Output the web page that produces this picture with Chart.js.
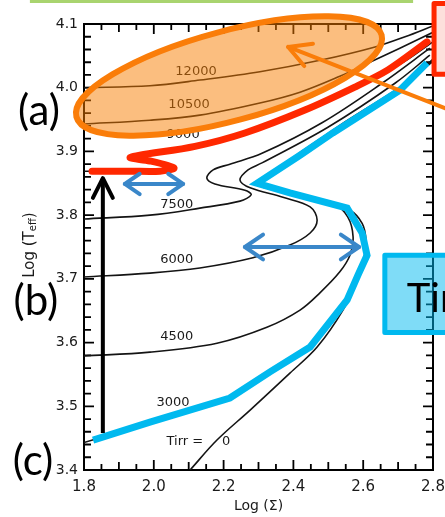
<!DOCTYPE html>
<html>
<head>
<meta charset="utf-8">
<script src="https://cdn.jsdelivr.net/npm/chart.js@4.4.1/dist/chart.umd.min.js"></script>
<style>
  html, body { margin: 0; padding: 0; background: #fff; }
  canvas { display: block; }
</style>
</head>
<body>
<canvas id="chart" width="445" height="517"></canvas>
<script>
// S-curves, Log(Sigma) vs Log(Teff), one pair of arrays per irradiation temperature
const sig12000 = [1.800, 1.989, 2.132, 2.304, 2.476, 2.634, 2.720, 2.800];
const teff12000 = [4.000, 4.003, 4.012, 4.025, 4.043, 4.064, 4.080, 4.097];

const sig10500 = [1.800, 1.989, 2.132, 2.304, 2.419, 2.533, 2.619, 2.705, 2.800];
const teff10500 = [3.943, 3.949, 3.957, 3.976, 3.993, 4.018, 4.040, 4.062, 4.087];

const sig9000 = [1.800, 1.950, 2.040, 2.060, 2.000, 1.950, 1.970, 2.118, 2.261, 2.433, 2.576, 2.700, 2.800];
const teff9000 = [3.869, 3.869, 3.871, 3.876, 3.884, 3.890, 3.895, 3.909, 3.930, 3.966, 4.003, 4.035, 4.072];

const sig7500 = [1.800, 1.989, 2.132, 2.247, 2.279, 2.261, 2.175, 2.152, 2.170, 2.218, 2.310, 2.482, 2.654, 2.791];
const teff7500 = [3.794, 3.800, 3.811, 3.822, 3.832, 3.839, 3.849, 3.858, 3.871, 3.880, 3.897, 3.945, 4.007, 4.062];

const sig6000 = [1.800, 1.989, 2.132, 2.284, 2.390, 2.448, 2.468, 2.448, 2.370, 2.276, 2.247, 2.270, 2.310, 2.499, 2.691, 2.791];
const teff6000 = [3.703, 3.709, 3.717, 3.733, 3.753, 3.772, 3.792, 3.813, 3.828, 3.843, 3.855, 3.871, 3.882, 3.938, 4.007, 4.051];

const sig4500 = [1.800, 1.989, 2.181, 2.324, 2.419, 2.476, 2.533, 2.562, 2.571, 2.556, 2.513, 2.390, 2.296, 2.310, 2.419, 2.533, 2.705, 2.797];
const teff4500 = [3.579, 3.585, 3.599, 3.624, 3.651, 3.678, 3.711, 3.737, 3.766, 3.797, 3.819, 3.836, 3.849, 3.858, 3.897, 3.941, 4.001, 4.040];

const sig3000 = [1.800, 1.989, 2.218, 2.333, 2.448, 2.554, 2.585, 2.608, 2.597, 2.554, 2.390, 2.300, 2.419, 2.513, 2.705, 2.800];
const teff3000 = [3.443, 3.474, 3.512, 3.553, 3.592, 3.666, 3.705, 3.737, 3.772, 3.811, 3.835, 3.850, 3.894, 3.929, 3.996, 4.043];

const sig0 = [2.104, 2.181, 2.276, 2.390, 2.468, 2.542, 2.582, 2.602, 2.608, 2.597, 2.560, 2.450, 2.330, 2.310, 2.360, 2.450, 2.550, 2.700, 2.800];
const teff0 = [3.400, 3.447, 3.494, 3.552, 3.593, 3.651, 3.698, 3.733, 3.760, 3.787, 3.808, 3.826, 3.843, 3.852, 3.875, 3.910, 3.945, 3.995, 4.045];

// hand drawn highlights
const redSig = [1.823, 1.932, 2.018, 2.058, 1.989, 1.932, 1.960, 2.118, 2.261, 2.433, 2.576, 2.671, 2.783];
const redTeff = [3.869, 3.869, 3.869, 3.874, 3.885, 3.890, 3.894, 3.908, 3.929, 3.965, 4.001, 4.028, 4.072];

const cyanSig = [1.826, 1.989, 2.218, 2.333, 2.448, 2.554, 2.585, 2.611, 2.597, 2.554, 2.390, 2.296, 2.419, 2.513, 2.705, 2.783];
const cyanTeff = [3.447, 3.475, 3.513, 3.554, 3.593, 3.667, 3.706, 3.737, 3.772, 3.811, 3.835, 3.850, 3.894, 3.929, 3.996, 4.039];

// curve labels
const curveLabels = ['12000', '10500', '9000', '7500', '6000', '4500', '3000', 'Tirr =', '0'];
const labelSig = [2.121, 2.101, 2.084, 2.066, 2.066, 2.066, 2.055, 2.089, 2.207];
const labelTeff = [4.025, 3.973, 3.926, 3.817, 3.730, 3.609, 3.505, 3.444, 3.444];

function pts(xs, ys) {
  return xs.map((v, i) => ({ x: v, y: ys[i] }));
}

function curve(xs, ys) {
  return {
    data: pts(xs, ys),
    showLine: true,
    borderColor: '#141414',
    borderWidth: 1.6,
    pointRadius: 0,
    tension: 0.35
  };
}

function head(ctx, tx, ty, fx, fy, len, ang) {
  const a = Math.atan2(fy - ty, fx - tx);
  ctx.beginPath();
  ctx.moveTo(tx + len * Math.cos(a + ang), ty + len * Math.sin(a + ang));
  ctx.lineTo(tx, ty);
  ctx.lineTo(tx + len * Math.cos(a - ang), ty + len * Math.sin(a - ang));
  ctx.stroke();
}

const frame = {
  id: 'frame',
  beforeDatasetsDraw(chart) {
    const ctx = chart.ctx;
    const a = chart.chartArea;
    const x = chart.scales.x, y = chart.scales.y;
    ctx.save();
    ctx.strokeStyle = '#000';
    ctx.lineWidth = 1.8;
    ctx.beginPath();
    for (let i = 0; i <= 20; i++) {
      const px = x.getPixelForValue(1.8 + i * 0.05);
      const len = i % 4 === 0 ? 10 : (i % 2 === 0 ? 8 : 6);
      ctx.moveTo(px, a.bottom); ctx.lineTo(px, a.bottom - len);
      ctx.moveTo(px, a.top); ctx.lineTo(px, a.top + len);
    }
    for (let i = 0; i <= 35; i++) {
      const py = y.getPixelForValue(3.4 + i * 0.02);
      const len = i % 5 === 0 ? 10 : 7;
      ctx.moveTo(a.left, py); ctx.lineTo(a.left + len, py);
      ctx.moveTo(a.right, py); ctx.lineTo(a.right - len, py);
    }
    ctx.stroke();
    ctx.lineWidth = 2;
    ctx.strokeRect(a.left, a.top, a.right - a.left, a.bottom - a.top);

    ctx.fillStyle = '#1a1a1a';
    ctx.font = '13px "DejaVu Sans"';
    ctx.textAlign = 'center';
    ctx.textBaseline = 'middle';
    curveLabels.forEach((t, i) => {
      ctx.fillText(t, x.getPixelForValue(labelSig[i]), y.getPixelForValue(labelTeff[i]));
    });
    ctx.restore();
  },
  afterDatasetsDraw(chart) {
    const ctx = chart.ctx;
    const x = chart.scales.x, y = chart.scales.y;
    const X = v => x.getPixelForValue(v);
    const Y = v => y.getPixelForValue(v);
    ctx.save();

    // orange ellipse around the hot branch
    ctx.beginPath();
    ctx.ellipse(X(2.2155), Y(4.0184), 158, 45, -15 * Math.PI / 180, 0, Math.PI * 2);
    ctx.fillStyle = 'rgba(248, 125, 0, 0.5)';
    ctx.fill();
    ctx.lineWidth = 6;
    ctx.strokeStyle = '#fa7d09';
    ctx.stroke();

    ctx.lineCap = 'round';
    ctx.lineJoin = 'round';

    // orange arrow
    ctx.lineWidth = 4;
    ctx.beginPath();
    ctx.moveTo(X(2.834), Y(3.968));
    ctx.lineTo(X(2.385), Y(4.064));
    ctx.stroke();
    head(ctx, X(2.385), Y(4.064), X(2.834), Y(3.968), 25, 0.5);

    // blue double arrows
    ctx.strokeStyle = '#3a87c9';
    ctx.lineWidth = 4;
    [[1.917, 2.084, 3.849, 18], [2.261, 2.588, 3.750, 22]].forEach(([s0, s1, t, l]) => {
      ctx.beginPath();
      ctx.moveTo(X(s0), Y(t));
      ctx.lineTo(X(s1), Y(t));
      ctx.stroke();
      head(ctx, X(s0), Y(t), X(s1), Y(t), l, 0.6);
      head(ctx, X(s1), Y(t), X(s0), Y(t), l, 0.6);
    });

    // black arrow
    ctx.strokeStyle = '#000';
    ctx.lineWidth = 4;
    ctx.lineCap = 'butt';
    ctx.beginPath();
    ctx.moveTo(X(1.854), Y(3.458));
    ctx.lineTo(X(1.854), Y(3.858));
    ctx.stroke();
    ctx.lineCap = 'round';
    head(ctx, X(1.854), Y(3.858), X(1.854), Y(3.458), 22, 0.47);

    // cyan box
    ctx.lineJoin = 'round';
    const bx0 = X(2.662), by0 = Y(3.737), bx1 = X(2.85), by1 = Y(3.616);
    ctx.fillStyle = 'rgba(0, 185, 240, 0.5)';
    ctx.fillRect(bx0, by0, bx1 - bx0, by1 - by0);
    ctx.lineWidth = 5;
    ctx.strokeStyle = '#00b9ef';
    ctx.strokeRect(bx0, by0, bx1 - bx0, by1 - by0);
    ctx.fillStyle = '#000';
    ctx.font = '40px Lato';
    ctx.textAlign = 'left';
    ctx.textBaseline = 'alphabetic';
    ctx.fillText('Tirr', X(2.725), Y(3.648));

    // red box
    const rx0 = X(2.803), ry0 = Y(4.132), rx1 = X(2.87), ry1 = Y(4.021);
    ctx.fillStyle = '#fde0dc';
    ctx.fillRect(rx0, ry0, rx1 - rx0, ry1 - ry0);
    ctx.lineWidth = 5;
    ctx.strokeStyle = '#ff2800';
    ctx.strokeRect(rx0, ry0, rx1 - rx0, ry1 - ry0);

    // green rule at top
    ctx.strokeStyle = '#a9d46f';
    ctx.lineWidth = 3;
    ctx.lineCap = 'butt';
    ctx.beginPath();
    ctx.moveTo(X(1.645), Y(4.1353));
    ctx.lineTo(X(2.743), Y(4.1353));
    ctx.stroke();

    // (a) (b) (c)
    ctx.fillStyle = '#000';
    ctx.font = '42px Lato';
    ctx.textAlign = 'center';
    ctx.textBaseline = 'middle';
    ctx.fillText('(a)', X(1.671), Y(3.962));
    ctx.fillText('(b)', X(1.662), Y(3.665));
    ctx.fillText('(c)', X(1.654), Y(3.414));

    // y axis title with subscript
    ctx.translate(X(1.645), Y(3.753));
    ctx.rotate(-Math.PI / 2);
    ctx.fillStyle = '#1a1a1a';
    ctx.textAlign = 'left';
    ctx.textBaseline = 'middle';
    const big = '15px "DejaVu Sans"', small = '10px "DejaVu Sans"';
    ctx.font = big;
    const w1 = ctx.measureText('Log (T').width;
    const w3 = ctx.measureText(')').width;
    ctx.font = small;
    const w2 = ctx.measureText('eff').width;
    let cx = -(w1 + w2 + w3) / 2;
    ctx.font = big;
    ctx.fillText('Log (T', cx, 0);
    cx += w1;
    ctx.font = small;
    ctx.fillText('eff', cx, 4);
    cx += w2;
    ctx.font = big;
    ctx.fillText(')', cx, 0);
    ctx.restore();
  }
};

new Chart(document.getElementById('chart'), {
  type: 'scatter',
  data: {
    datasets: [
      {
        data: pts(cyanSig, cyanTeff), showLine: true, borderColor: '#00b9ef',
        borderWidth: 7, pointRadius: 0, tension: 0, borderJoinStyle: 'miter'
      },
      {
        data: pts(redSig, redTeff), showLine: true, borderColor: '#ff2800',
        borderWidth: 7, pointRadius: 0, tension: 0.3,
        borderCapStyle: 'round', borderJoinStyle: 'round'
      },
      curve(sig12000, teff12000),
      curve(sig10500, teff10500),
      curve(sig9000, teff9000),
      curve(sig7500, teff7500),
      curve(sig6000, teff6000),
      curve(sig4500, teff4500),
      curve(sig3000, teff3000),
      curve(sig0, teff0)
    ]
  },
  options: {
    responsive: false,
    animation: false,
    events: [],
    layout: { padding: { top: 24, right: 12, left: 0, bottom: 0 } },
    plugins: { legend: { display: false }, tooltip: { enabled: false } },
    scales: {
      x: {
        type: 'linear', min: 1.8, max: 2.8,
        grid: { display: false, drawTicks: false },
        border: { display: false },
        ticks: {
          stepSize: 0.2, padding: 8, color: '#1a1a1a',
          font: { family: 'DejaVu Sans', size: 15 },
          callback: v => v.toFixed(1)
        },
        title: {
          display: true, text: 'Log (Σ)', color: '#1a1a1a',
          font: { family: 'DejaVu Sans', size: 14 },
          padding: { top: 0, bottom: 2 }
        },
        afterFit: s => { s.height = 47; s.paddingLeft = 0; s.paddingRight = 0; }
      },
      y: {
        type: 'linear', min: 3.4, max: 4.1,
        grid: { display: false, drawTicks: false },
        border: { display: false },
        ticks: {
          stepSize: 0.1, padding: 6, color: '#1a1a1a',
          font: { family: 'DejaVu Sans', size: 14 },
          callback: v => v.toFixed(1)
        },
        afterFit: s => { s.width = 84; s.paddingTop = 0; s.paddingBottom = 0; }
      }
    }
  },
  plugins: [frame]
});
</script>
</body>
</html>
